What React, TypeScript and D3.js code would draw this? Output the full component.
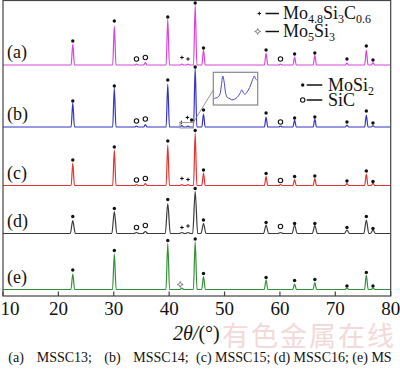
import React from "react";
import * as d3 from "d3";

// stacked XRD patterns, intensity in a.u. (roughly 1 unit per px)
const sampleLabels = ["(a)", "(b)", "(c)", "(d)", "(e)"];
const sampleColors = ["#d944d9", "#3434c4", "#e23232", "#3a3a3a", "#33903a"];
const offsets = [231, 169, 110.5, 62.5, 6.5];
const peakWidth = [0.3, 0.3, 0.3, 0.45, 0.33];

const peakPos = [22.6, 30.1, 34.1, 35.7, 39.75, 42.3, 43.4, 44.7, 46.2, 57.5, 60.1, 62.65, 66.3, 72.1, 75.6, 76.8];
const hA = [21, 39, 1, 2.5, 46, 1, 1, 60, 15, 12, 1, 8, 10, 2, 15, 2.5];
const hB = [24, 39, 1, 2.5, 43, 1.5, 1, 59, 13, 10, 1, 7, 8, 2, 12, 1.5];
const hC = [22.5, 35.5, 1, 2, 40.5, 1, 1, 52.5, 12.5, 9, 1, 6, 7, 2, 11.5, 2.5];
const hD = [13, 22, 1, 2, 30, 1, 1, 42, 10, 8.5, 1, 8.5, 8, 3.5, 13.5, 3.5];
const hE = [15.5, 35.5, 0, 0, 46, 1.5, 0, 48, 13, 9.5, 0, 5.5, 7, 1.5, 14.5, 1.5];
const heights = [hA, hB, hC, hD, hE];

// phase markers: [2theta, level above baseline, phase]
// M = MoSi2, S = SiC, C = Mo4.8Si3C0.6, F = Mo5Si3
const markA = [[22.6, 24, "M"], [30.1, 44, "M"], [34.1, 6, "S"], [35.7, 7.5, "S"], [39.75, 48, "M"], [42.3, 7.5, "C"], [43.4, 6, "C"], [44.7, 62, "M"], [46.2, 17, "M"], [57.5, 15, "M"], [60.1, 6, "S"], [62.65, 11, "M"], [66.3, 12, "M"], [72.1, 6, "M"], [75.6, 19, "M"], [76.8, 5, "M"]];
const markB = [[22.6, 26, "M"], [30.1, 41, "M"], [34.1, 6, "S"], [35.7, 8, "S"], [39.75, 47, "M"], [42.2, 4.5, "C"], [43.3, 9.5, "C"], [44.05, 7, "M"], [44.7, 60, "M"], [46.2, 17, "M"], [57.5, 14, "M"], [60.1, 5, "S"], [62.65, 9, "M"], [66.3, 10, "M"], [72.1, 5, "M"], [75.6, 16, "M"], [76.8, 4, "M"]];
const markC = [[22.6, 25.5, "M"], [30.1, 38.5, "M"], [34.1, 5.5, "S"], [35.7, 7, "S"], [39.75, 44.5, "M"], [42.3, 7, "C"], [43.4, 6, "C"], [44.7, 55, "M"], [46.2, 15.5, "M"], [57.5, 12, "M"], [60.1, 5, "S"], [62.65, 9, "M"], [66.3, 9.5, "M"], [72.1, 4.5, "M"], [75.6, 14.5, "M"], [76.8, 4, "M"]];
const markD = [[22.6, 17, "M"], [30.1, 25, "M"], [34.1, 6, "S"], [35.7, 8, "S"], [39.75, 34, "M"], [42.3, 6, "C"], [43.4, 7.5, "C"], [44.7, 45, "M"], [46.2, 13.5, "M"], [57.5, 11, "M"], [60.1, 7, "S"], [62.65, 10, "M"], [66.3, 10, "M"], [72.1, 6, "M"], [75.6, 17, "M"], [76.8, 5, "M"]];
const markE = [[22.6, 19.5, "M"], [30.1, 39, "M"], [39.75, 49, "M"], [42.0, 5, "F"], [44.7, 50.5, "M"], [46.2, 16, "M"], [57.5, 12, "M"], [62.65, 9, "M"], [66.3, 10, "M"], [72.1, 3.5, "M"], [75.6, 17, "M"], [76.8, 3.5, "M"]];
const markers = [markA, markB, markC, markD, markE];

// zoomed region of (b)
const insetRange = [41.96, 44.36];
const insetTheta = [41.98, 42.15, 42.3, 42.38, 42.45, 42.52, 42.6, 42.7, 42.85, 42.95, 43.1, 43.25, 43.4, 43.51, 43.6, 43.69, 43.8, 43.95, 44.08, 44.16, 44.21, 44.28, 44.34];
const insetI = [15, 18, 30, 60, 87, 70, 35, 18, 14, 10, 12, 18, 30, 42, 33, 28, 35, 50, 70, 82, 87, 78, 74];

const xTicks = [10, 20, 30, 40, 50, 60, 70, 80];

const serif = "'Liberation Serif', 'Times New Roman', serif";

function Marker({ x, y, p }) {
  if (p === "M") return <circle cx={x} cy={y} r={1.7} fill="#111" />;
  if (p === "S") return <circle cx={x} cy={y} r={2.2} fill="#fff" stroke="#111" strokeWidth={1.1} />;
  if (p === "C")
    return (
      <path d={`M${x - 1.8},${y}H${x + 1.8}M${x},${y - 1.8}V${y + 1.8}`} stroke="#111" strokeWidth={1} />
    );
  const s = 3, t = 0.8;
  const d = `M${x},${y - s}L${x + t},${y - t}L${x + s},${y}L${x + t},${y + t}L${x},${y + s}L${x - t},${y + t}L${x - s},${y}L${x - t},${y - t}Z`;
  return <path d={d} fill="#fff" stroke="#666" strokeWidth={0.8} />;
}

export default function App() {
  const x = d3.scaleLinear().domain([10, 80]).range([3, 390.7]);
  const y = d3.scaleLinear().domain([0, 296]).range([296, 0]);

  const line = d3
    .line()
    .x((d) => x(d[0]))
    .y((d) => y(d[1]))
    .curve(d3.curveMonotoneX);

  const paths = heights.map((hs, i) => {
    const w = peakWidth[i];
    const pts = [[10, offsets[i]]];
    peakPos.forEach((p, j) => {
      if (hs[j] <= 0) return;
      pts.push([p - w, offsets[i]], [p, offsets[i] + hs[j]], [p + w, offsets[i]]);
    });
    pts.push([80, offsets[i]]);
    return line(pts);
  });

  const ix = d3.scaleLinear().domain(insetRange).range([214, 257]);
  const iy = d3.scaleLinear().domain([0, 100]).range([103, 72]);
  const insetLine = d3
    .line()
    .x((d, k) => ix(insetTheta[k]))
    .y((d) => iy(d))
    .curve(d3.curveMonotoneX);

  const baseB = y(offsets[1]);

  return (
    <svg width={400} height={370} style={{ position: "absolute", left: 0, top: 0, background: "#fff" }} fontFamily={serif}>
      {/* watermark */}
      <text x={222} y={346} fontSize={27} letterSpacing={2} fill="#f3d9d9" fontFamily="'Noto Sans CJK SC', sans-serif">
        有色金属在线
      </text>

      {paths.map((d, i) => (
        <path key={i} d={d} fill="none" stroke={sampleColors[i]} strokeWidth={1.2} />
      ))}

      {markers.map((ms, i) =>
        ms.map((m, k) => <Marker key={i + "-" + k} x={x(m[0])} y={y(offsets[i] + m[1])} p={m[2]} />)
      )}

      {/* frame and ticks */}
      <rect x={3} y={0.5} width={387.7} height={295.5} fill="none" stroke="#444" strokeWidth={1.2} />
      {xTicks.map((t) => (
        <g key={t}>
          <line x1={x(t)} x2={x(t)} y1={296} y2={291.5} stroke="#444" strokeWidth={1.2} />
          <text x={Math.max(x(t), 10)} y={315} fontSize={19} textAnchor="middle" fill="#111">
            {t}
          </text>
        </g>
      ))}

      {sampleLabels.map((s, i) => (
        <text key={s} x={7} y={y(offsets[i]) - 7} fontSize={18} fill="#111">
          {s}
        </text>
      ))}

      {/* inset */}
      <rect x={x(insetRange[0])} y={baseB - 4.5} width={x(insetRange[1]) - x(insetRange[0])} height={5.5} fill="none" stroke="#999" strokeWidth={1} />
      <line x1={x(insetRange[1])} y1={baseB - 4.5} x2={213.3} y2={90} stroke="#777" strokeWidth={0.8} />
      <rect x={213.3} y={72.3} width={44.4} height={32.7} fill="#fff" stroke="#888" strokeWidth={1.2} />
      <path d={insetLine(insetI)} fill="none" stroke="#4848cc" strokeWidth={1} />

      {/* legends */}
      <g fill="#111">
        <Marker x={259.3} y={13.5} p="C" />
        <line x1={265.5} x2={279} y1={13.5} y2={13.5} stroke="#111" strokeWidth={1.5} />
        <text x={283} y={18.5} fontSize={18}>
          Mo<tspan fontSize={12} dy={4}>4.8</tspan>
          <tspan dy={-4}>Si</tspan>
          <tspan fontSize={12} dy={4}>3</tspan>
          <tspan dy={-4}>C</tspan>
          <tspan fontSize={12} dy={4}>0.6</tspan>
        </text>
        <Marker x={257.7} y={31.5} p="F" />
        <line x1={265.5} x2={279} y1={31.5} y2={31.5} stroke="#111" strokeWidth={1.5} />
        <text x={283} y={36.5} fontSize={18}>
          Mo<tspan fontSize={12} dy={4}>5</tspan>
          <tspan dy={-4}>Si</tspan>
          <tspan fontSize={12} dy={4}>3</tspan>
        </text>

        <Marker x={302.7} y={85} p="M" />
        <line x1={306.7} x2={322.3} y1={85} y2={85} stroke="#111" strokeWidth={1.5} />
        <text x={328} y={90.5} fontSize={18}>
          MoSi<tspan fontSize={12} dy={4}>2</tspan>
        </text>
        <Marker x={302.7} y={100} p="S" />
        <line x1={306.7} x2={322.3} y1={100} y2={100} stroke="#111" strokeWidth={1.5} />
        <text x={328} y={106} fontSize={18}>
          SiC
        </text>
      </g>

      {/* axis title */}
      <text x={173} y={340} fontSize={20} fill="#111">
        <tspan fontStyle="italic">2θ/</tspan>(°)
      </text>

      {/* caption */}
      <g fontSize={14} fill="#111">
        <text x={8.3} y={362}>(a)</text>
        <text x={36.7} y={362}>MSSC13;</text>
        <text x={104.3} y={362}>(b)</text>
        <text x={133.3} y={362}>MSSC14;</text>
        <text x={196} y={362}>(c) MSSC15; (d) MSSC16; (e) MS</text>
      </g>
    </svg>
  );
}
